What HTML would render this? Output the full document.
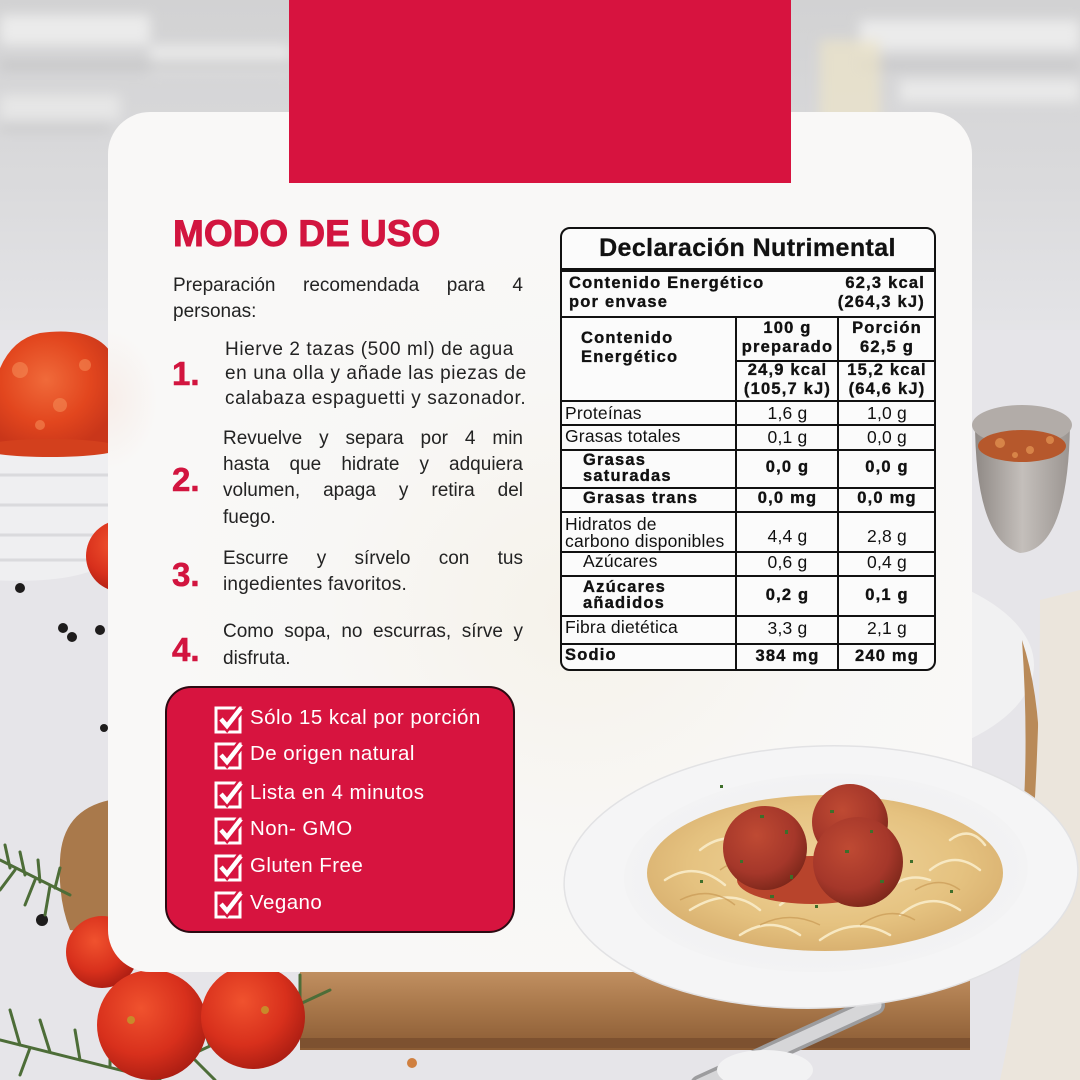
<!DOCTYPE html>
<html><head><meta charset="utf-8">
<style>
*{margin:0;padding:0;box-sizing:border-box}
body{width:1080px;height:1080px;overflow:hidden;position:relative;font-family:"Liberation Sans",sans-serif;background:#e5e4e8}
.a{position:absolute;white-space:nowrap}
.t{font-size:19px;color:#232323;line-height:26px;height:26px}
.j{text-align:justify;text-align-last:justify;white-space:normal}
.n{font-size:33px;font-weight:bold;color:#d2153f;line-height:34px;-webkit-text-stroke:0.6px #d2153f}
.nt{font-size:17.5px;color:#111;line-height:20px;letter-spacing:0.2px}
.b{font-weight:bold;font-size:16.5px;letter-spacing:1.2px;-webkit-text-stroke:0.35px #111}
.c2{left:737px;width:101px;text-align:center}
.c3{left:839px;width:96px;text-align:center}
.h{position:absolute;background:#111;height:2px}
.v{position:absolute;background:#111;width:2px}
.ck{font-size:20.5px;color:#fff;line-height:28px;letter-spacing:0.45px}
</style></head>
<body>
<svg width="1080" height="1080" style="position:absolute;left:0;top:0">
<defs>
<linearGradient id="wall" x1="0" y1="0" x2="0" y2="1"><stop offset="0" stop-color="#d2d2d3"/><stop offset="0.55" stop-color="#dadadc"/><stop offset="1" stop-color="#e4e4e7"/></linearGradient>
<filter id="bl"><feGaussianBlur stdDeviation="6"/></filter>
<filter id="bl2"><feGaussianBlur stdDeviation="2"/></filter>
<radialGradient id="sauce" cx="0.45" cy="0.4" r="0.6"><stop offset="0" stop-color="#f06a3a"/><stop offset="0.6" stop-color="#e2461e"/><stop offset="1" stop-color="#c9361a"/></radialGradient>
<radialGradient id="tom" cx="0.4" cy="0.35" r="0.7"><stop offset="0" stop-color="#f0522e"/><stop offset="0.6" stop-color="#d8301c"/><stop offset="1" stop-color="#a81c12"/></radialGradient>
<linearGradient id="wood" x1="0" y1="0" x2="0" y2="1"><stop offset="0" stop-color="#c59465"/><stop offset="0.5" stop-color="#a8774a"/><stop offset="1" stop-color="#8a5b34"/></linearGradient>
<linearGradient id="metal" x1="0" y1="0" x2="1" y2="0"><stop offset="0" stop-color="#8f8985"/><stop offset="0.5" stop-color="#c4bfbb"/><stop offset="1" stop-color="#9b9591"/></linearGradient>
</defs>
<rect width="1080" height="1080" fill="#e6e5e9"/>
<rect width="1080" height="330" fill="url(#wall)"/>
<g filter="url(#bl)">
<rect x="0" y="15" width="150" height="30" fill="#ebebeb"/>
<rect x="150" y="45" width="140" height="28" fill="#e8e8e8"/>
<rect x="0" y="95" width="120" height="25" fill="#e6e6e6"/>
<rect x="860" y="20" width="220" height="30" fill="#ebebeb"/>
<rect x="900" y="80" width="180" height="22" fill="#e9e9e9"/>
<rect x="0" y="62" width="290" height="7" fill="#c3c3c4"/>
<rect x="860" y="62" width="220" height="7" fill="#c6c6c7"/>
<rect x="0" y="125" width="110" height="6" fill="#c8c8c9"/>
<rect x="820" y="40" width="60" height="90" fill="#ece4c8" opacity=".7"/>
</g>
<!-- left bowl -->
<path d="M-10 440 L112 440 L112 560 Q80 585 -10 580 Z" fill="#efeff1"/>
<g stroke="#dadadd" stroke-width="3" fill="none"><path d="M0 475 H110"/><path d="M0 505 H110"/><path d="M0 535 H110"/><path d="M0 560 H105"/></g>
<path d="M-10 450 Q-15 345 40 333 Q100 325 115 360 L115 452 Z" fill="url(#sauce)"/>
<ellipse cx="50" cy="448" rx="70" ry="9" fill="#d3401d"/>
<g fill="#f58a55" opacity=".6"><circle cx="20" cy="370" r="8"/><circle cx="60" cy="405" r="7"/><circle cx="85" cy="365" r="6"/><circle cx="40" cy="425" r="5"/></g>
<circle cx="122" cy="556" r="36" fill="url(#tom)"/>
<g fill="#1e1c1c"><circle cx="20" cy="588" r="5"/><circle cx="63" cy="628" r="5"/><circle cx="72" cy="637" r="5"/><circle cx="100" cy="630" r="5"/><circle cx="104" cy="728" r="4"/><circle cx="42" cy="920" r="6"/></g>
<!-- left wood edge -->
<path d="M60 860 Q62 810 110 800 L110 935 L70 930 Q58 900 60 860Z" fill="#a9794b"/>
<!-- right side -->
<ellipse cx="790" cy="665" rx="244" ry="110" fill="#f1f1f2"/>
<path d="M1022 640 Q1042 700 1040 790 L1034 850 L1020 850 Q1030 760 1022 640Z" fill="#b98a58"/>
<path d="M1040 600 L1080 590 L1080 1080 L1000 1080 Q1040 900 1040 600Z" fill="#ebe5dc"/>
<path d="M975 420 Q975 540 1020 553 Q1068 550 1070 425 Z" fill="url(#metal)"/>
<ellipse cx="1022" cy="425" rx="50" ry="20" fill="#b2aca8"/>
<ellipse cx="1022" cy="446" rx="44" ry="16" fill="#b6582c"/>
<g fill="#e09050" opacity=".8"><circle cx="1000" cy="443" r="5"/><circle cx="1030" cy="450" r="4"/><circle cx="1050" cy="440" r="4"/><circle cx="1015" cy="455" r="3"/></g>
<!-- bottom wood board -->
<rect x="300" y="965" width="670" height="85" fill="url(#wood)"/>
<rect x="300" y="1038" width="670" height="10" fill="#7d5130"/>
<!-- spoon -->
<path d="M700 1085 L875 1005" stroke="#9c9c9e" stroke-width="20" stroke-linecap="round"/>
<path d="M700 1085 L875 1005" stroke="#d6d6d8" stroke-width="13" stroke-linecap="round"/>
<ellipse cx="765" cy="1070" rx="48" ry="20" fill="#f2f2f3"/>
<!-- rosemary -->
<g stroke="#4d6d38" stroke-width="3" fill="none" stroke-linecap="round">
<path d="M0 860 L70 895"/><path d="M10 868 L5 845"/><path d="M25 875 L20 852"/><path d="M40 882 L38 860"/><path d="M55 888 L60 868"/><path d="M15 870 L0 890"/><path d="M35 880 L25 905"/><path d="M50 886 L45 915"/>
<path d="M0 1040 L160 1080"/><path d="M20 1045 L10 1010"/><path d="M50 1052 L40 1020"/><path d="M80 1060 L75 1030"/><path d="M110 1067 L110 1040"/><path d="M30 1048 L20 1075"/>
<path d="M180 1060 L330 990"/><path d="M210 1046 L200 1020"/><path d="M240 1032 L245 1005"/><path d="M300 1004 L300 975"/><path d="M260 1023 L280 1050"/><path d="M190 1055 L215 1080"/>
</g>
<!-- tomatoes -->
<circle cx="102" cy="952" r="36" fill="url(#tom)"/>
<circle cx="152" cy="1025" r="55" fill="url(#tom)"/>
<circle cx="253" cy="1017" r="52" fill="url(#tom)"/>
<circle cx="131" cy="1020" r="4" fill="#c88a2a"/><circle cx="265" cy="1010" r="4" fill="#c88a2a"/>
<circle cx="412" cy="1063" r="5" fill="#d08040"/>
</svg>

<!-- card -->
<div style="position:absolute;left:108px;top:112px;width:864px;height:860px;border-radius:42px;background:radial-gradient(ellipse 420px 380px at 470px 500px,#f6f2ea 0%,#f8f7f5 60%,#f9f8f7 100%)"></div>
<div style="position:absolute;left:108px;top:330px;width:50px;height:140px;background:radial-gradient(ellipse at 0% 50%,rgba(240,190,170,.18),rgba(248,247,245,0) 70%)"></div>
<!-- red top rect -->
<div style="position:absolute;left:289px;top:0;width:502px;height:183px;background:#d7133f"></div>

<!-- plate overlay -->
<svg width="1080" height="1080" style="position:absolute;left:0;top:0">
<defs>
<radialGradient id="pasta" cx="0.5" cy="0.45" r="0.55"><stop offset="0" stop-color="#f0d59c"/><stop offset="0.7" stop-color="#e5c280"/><stop offset="1" stop-color="#d9b170"/></radialGradient>
<radialGradient id="mb" cx="0.4" cy="0.35" r="0.7"><stop offset="0" stop-color="#bf4a33"/><stop offset="0.65" stop-color="#a5372a"/><stop offset="1" stop-color="#7a2619"/></radialGradient>
<radialGradient id="well" cx="0.5" cy="0.5" r="0.5"><stop offset="0" stop-color="#ebebed"/><stop offset="1" stop-color="#f3f3f4"/></radialGradient>
</defs>
<g transform="rotate(-2 821 877)">
<ellipse cx="821" cy="877" rx="257" ry="131" fill="#f5f5f6" stroke="#e2e2e4" stroke-width="1.5"/>
<ellipse cx="826" cy="873" rx="202" ry="99" fill="url(#well)"/>
</g>
<ellipse cx="825" cy="873" rx="178" ry="78" fill="url(#pasta)"/>
<g stroke="#f7e8c2" stroke-width="2.5" fill="none" stroke-linecap="round">
<path d="M665 880 q30 -20 60 5"/><path d="M690 910 q40 -25 70 0"/><path d="M740 935 q30 -20 60 0"/><path d="M820 940 q35 -25 70 -5"/><path d="M900 915 q30 -25 60 -5"/><path d="M930 870 q25 -20 50 0"/><path d="M700 850 q25 -20 50 -5"/><path d="M880 900 q20 -30 50 -20"/><path d="M780 905 q25 -20 55 -5"/><path d="M950 840 q20 -15 35 5"/>
</g>
<g stroke="#c99a55" stroke-width="1.5" fill="none" opacity=".7">
<path d="M680 900 q30 -15 55 5"/><path d="M760 925 q30 -15 60 0"/><path d="M860 925 q30 -20 55 -5"/><path d="M915 890 q25 -15 45 0"/><path d="M720 870 q20 -15 40 0"/>
</g>
<ellipse cx="812" cy="880" rx="75" ry="24" fill="#b8442c"/>
<circle cx="850" cy="822" r="38" fill="url(#mb)"/>
<circle cx="765" cy="848" r="42" fill="url(#mb)"/>
<circle cx="858" cy="862" r="45" fill="url(#mb)"/>
<g fill="#3e6e2a">
<rect x="760" y="815" width="4" height="3"/><rect x="785" y="830" width="3" height="4"/><rect x="830" y="810" width="4" height="3"/><rect x="870" y="830" width="3" height="3"/><rect x="845" y="850" width="4" height="3"/><rect x="790" y="875" width="3" height="4"/><rect x="880" y="880" width="4" height="3"/><rect x="740" y="860" width="3" height="3"/><rect x="910" y="860" width="3" height="3"/><rect x="700" y="880" width="3" height="3"/><rect x="950" y="890" width="3" height="3"/><rect x="815" y="905" width="3" height="3"/><rect x="720" y="785" width="3" height="3"/><rect x="770" y="895" width="4" height="3"/>
</g>
</svg>

<!-- left column -->
<div class="a" style="left:173px;top:215px;font-size:37px;font-weight:bold;color:#d2153f;line-height:37px;letter-spacing:0px;-webkit-text-stroke:0.9px #d2153f">MODO DE USO</div>

<div class="a t j" style="left:173px;top:273px;width:350px">Preparación recomendada para 4</div>
<div class="a t" style="left:173px;top:299px">personas:</div>

<div class="a n" style="left:172px;top:357px">1.</div>
<div class="a t" style="left:225px;top:337px;letter-spacing:0.6px">Hierve 2 tazas (500 ml) de agua</div>
<div class="a t" style="left:225px;top:361px;letter-spacing:0.6px">en una olla y añade las piezas de</div>
<div class="a t" style="left:225px;top:386px;letter-spacing:0.6px">calabaza espaguetti y sazonador.</div>

<div class="a n" style="left:172px;top:463px">2.</div>
<div class="a t j" style="left:223px;top:426px;width:300px">Revuelve y separa por 4 min</div>
<div class="a t j" style="left:223px;top:452px;width:300px">hasta que hidrate y adquiera</div>
<div class="a t j" style="left:223px;top:478px;width:300px">volumen, apaga y retira del</div>
<div class="a t" style="left:223px;top:505px">fuego.</div>

<div class="a n" style="left:172px;top:558px">3.</div>
<div class="a t j" style="left:223px;top:546px;width:300px">Escurre y sírvelo con tus</div>
<div class="a t" style="left:223px;top:572px;letter-spacing:0.2px">ingedientes favoritos.</div>

<div class="a n" style="left:172px;top:633px">4.</div>
<div class="a t j" style="left:223px;top:619px;width:300px">Como sopa, no escurras, sírve y</div>
<div class="a t" style="left:223px;top:646px">disfruta.</div>

<!-- red check box -->
<div style="position:absolute;left:165px;top:686px;width:350px;height:247px;border-radius:26px;background:#d7143f;border:2px solid #2c0a12"></div>
<svg class="a" style="left:213px;top:703px" width="32" height="32" viewBox="0 0 32 32"><rect x="3" y="5" width="24" height="24" fill="none" stroke="#fff" stroke-width="3"/><path d="M8 16 L14 23 L28 5" fill="none" stroke="#d7143f" stroke-width="9"/><path d="M8 16 L14 23 L28 5" fill="none" stroke="#fff" stroke-width="4.5"/></svg>
<svg class="a" style="left:213px;top:739px" width="32" height="32" viewBox="0 0 32 32"><rect x="3" y="5" width="24" height="24" fill="none" stroke="#fff" stroke-width="3"/><path d="M8 16 L14 23 L28 5" fill="none" stroke="#d7143f" stroke-width="9"/><path d="M8 16 L14 23 L28 5" fill="none" stroke="#fff" stroke-width="4.5"/></svg>
<svg class="a" style="left:213px;top:778px" width="32" height="32" viewBox="0 0 32 32"><rect x="3" y="5" width="24" height="24" fill="none" stroke="#fff" stroke-width="3"/><path d="M8 16 L14 23 L28 5" fill="none" stroke="#d7143f" stroke-width="9"/><path d="M8 16 L14 23 L28 5" fill="none" stroke="#fff" stroke-width="4.5"/></svg>
<svg class="a" style="left:213px;top:814px" width="32" height="32" viewBox="0 0 32 32"><rect x="3" y="5" width="24" height="24" fill="none" stroke="#fff" stroke-width="3"/><path d="M8 16 L14 23 L28 5" fill="none" stroke="#d7143f" stroke-width="9"/><path d="M8 16 L14 23 L28 5" fill="none" stroke="#fff" stroke-width="4.5"/></svg>
<svg class="a" style="left:213px;top:851px" width="32" height="32" viewBox="0 0 32 32"><rect x="3" y="5" width="24" height="24" fill="none" stroke="#fff" stroke-width="3"/><path d="M8 16 L14 23 L28 5" fill="none" stroke="#d7143f" stroke-width="9"/><path d="M8 16 L14 23 L28 5" fill="none" stroke="#fff" stroke-width="4.5"/></svg>
<svg class="a" style="left:213px;top:888px" width="32" height="32" viewBox="0 0 32 32"><rect x="3" y="5" width="24" height="24" fill="none" stroke="#fff" stroke-width="3"/><path d="M8 16 L14 23 L28 5" fill="none" stroke="#d7143f" stroke-width="9"/><path d="M8 16 L14 23 L28 5" fill="none" stroke="#fff" stroke-width="4.5"/></svg>
<div class="a ck" style="left:250px;top:704px">Sólo 15 kcal por porción</div>
<div class="a ck" style="left:250px;top:740px">De origen natural</div>
<div class="a ck" style="left:250px;top:779px">Lista en 4 minutos</div>
<div class="a ck" style="left:250px;top:815px">Non- GMO</div>
<div class="a ck" style="left:250px;top:852px">Gluten Free</div>
<div class="a ck" style="left:250px;top:889px">Vegano</div>

<!-- nutrition table -->
<div style="position:absolute;left:560px;top:227px;width:376px;height:444px;border:2.5px solid #111;border-radius:10px;background:#fbfbfb"></div>
<div class="a" style="left:560px;top:233px;width:375px;text-align:center;font-size:25px;font-weight:bold;letter-spacing:0.4px;line-height:30px;color:#111;-webkit-text-stroke:0.3px #111">Declaración Nutrimental</div>
<div class="h" style="left:561px;top:268px;width:374px;height:4px"></div>
<div class="a nt b" style="left:569px;top:273px">Contenido Energético</div>
<div class="a nt b" style="left:569px;top:292px">por envase</div>
<div class="a nt b" style="left:740px;top:273px;width:185px;text-align:right">62,3 kcal</div>
<div class="a nt b" style="left:740px;top:292px;width:185px;text-align:right">(264,3 kJ)</div>
<div class="h" style="left:561px;top:316px;width:374px"></div>
<div class="v" style="left:735px;top:317px;height:352px"></div>
<div class="v" style="left:837px;top:317px;height:352px"></div>
<div class="a nt b" style="left:581px;top:328px">Contenido</div>
<div class="a nt b" style="left:581px;top:347px">Energético</div>
<div class="a nt b c2" style="top:318px">100 g</div>
<div class="a nt b c2" style="top:337px">preparado</div>
<div class="a nt b c3" style="top:318px">Porción</div>
<div class="a nt b c3" style="top:337px">62,5 g</div>
<div class="h" style="left:736px;top:360px;width:199px"></div>
<div class="a nt b c2" style="top:360px">24,9 kcal</div>
<div class="a nt b c2" style="top:379px">(105,7 kJ)</div>
<div class="a nt b c3" style="top:360px">15,2 kcal</div>
<div class="a nt b c3" style="top:379px">(64,6 kJ)</div>
<div class="h" style="left:561px;top:400px;width:374px"></div>
<div class="a nt" style="left:565px;top:403px">Proteínas</div>
<div class="a nt c2" style="top:403px">1,6 g</div>
<div class="a nt c3" style="top:403px">1,0 g</div>
<div class="h" style="left:561px;top:424px;width:374px"></div>
<div class="a nt" style="left:565px;top:426px">Grasas totales</div>
<div class="a nt c2" style="top:427px">0,1 g</div>
<div class="a nt c3" style="top:427px">0,0 g</div>
<div class="h" style="left:561px;top:449px;width:374px"></div>
<div class="a nt b" style="left:583px;top:450px">Grasas</div>
<div class="a nt b" style="left:583px;top:466px">saturadas</div>
<div class="a nt b c2" style="top:457px">0,0 g</div>
<div class="a nt b c3" style="top:457px">0,0 g</div>
<div class="h" style="left:561px;top:487px;width:374px"></div>
<div class="a nt b" style="left:583px;top:488px">Grasas trans</div>
<div class="a nt b c2" style="top:488px">0,0 mg</div>
<div class="a nt b c3" style="top:488px">0,0 mg</div>
<div class="h" style="left:561px;top:511px;width:374px"></div>
<div class="a nt" style="left:565px;top:514px">Hidratos de</div>
<div class="a nt" style="left:565px;top:531px">carbono disponibles</div>
<div class="a nt c2" style="top:526px">4,4 g</div>
<div class="a nt c3" style="top:526px">2,8 g</div>
<div class="h" style="left:561px;top:551px;width:374px"></div>
<div class="a nt" style="left:583px;top:551px">Azúcares</div>
<div class="a nt c2" style="top:552px">0,6 g</div>
<div class="a nt c3" style="top:552px">0,4 g</div>
<div class="h" style="left:561px;top:575px;width:374px"></div>
<div class="a nt b" style="left:583px;top:577px">Azúcares</div>
<div class="a nt b" style="left:583px;top:593px">añadidos</div>
<div class="a nt b c2" style="top:585px">0,2 g</div>
<div class="a nt b c3" style="top:585px">0,1 g</div>
<div class="h" style="left:561px;top:615px;width:374px"></div>
<div class="a nt" style="left:565px;top:617px">Fibra dietética</div>
<div class="a nt c2" style="top:618px">3,3 g</div>
<div class="a nt c3" style="top:618px">2,1 g</div>
<div class="h" style="left:561px;top:643px;width:374px"></div>
<div class="a nt b" style="left:565px;top:645px">Sodio</div>
<div class="a nt b c2" style="top:646px">384 mg</div>
<div class="a nt b c3" style="top:646px">240 mg</div>
</body></html>
